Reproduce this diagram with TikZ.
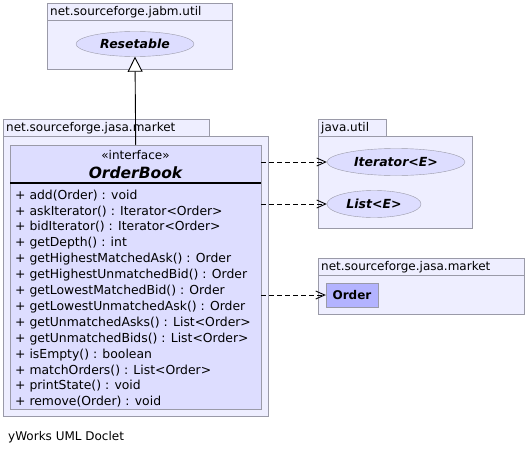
\documentclass[tikz,border=0pt]{standalone}
\usepackage{fontspec}
\setmainfont{DejaVu Sans}
\usetikzlibrary{arrows.meta,positioning,shapes.geometric}
\definecolor{pkgfill}{HTML}{EEEEFF}
\definecolor{pkgline}{HTML}{9A9AA8}
\definecolor{clsfill}{HTML}{DDDDFF}
\definecolor{reffill}{HTML}{B3B3FF}

\begin{document}
\begin{tikzpicture}[x=1pt, y=-1pt, font=\fontsize{12}{16}\selectfont,
  pkg/.style={draw=pkgline, fill=pkgfill, anchor=north west, inner sep=0pt},
  tab/.style={draw=pkgline, fill=pkgfill, anchor=north west, inner xsep=3pt,
    inner ysep=0pt, minimum height=17pt, align=left},
  cls/.style={draw=pkgline, fill=clsfill, anchor=north west, inner sep=0pt},
  iface/.style={ellipse, draw=pkgline, fill=clsfill, inner sep=0pt,
    font=\fontsize{12.5}{14}\selectfont\bfseries\itshape},
  ref/.style={draw=pkgline, fill=reffill, inner sep=0pt,
    font=\fontsize{12}{14}\selectfont\bfseries},
  dep/.style={dash pattern=on 5pt off 3pt, line width=0.9pt,
    -{Straight Barb[length=9pt, width=8pt]}},
  realize/.style={line width=0.9pt, -{Triangle[length=15pt, width=15pt, fill=white]}}]
\useasboundingbox (0,0) rectangle (527,455);

% package net.sourceforge.jabm.util
\node[tab, text width=179pt] (jabmtab) at (47,3) {net.sourceforge.jabm.util};
\node[pkg, minimum width=185pt, minimum height=49pt] (jabm) at (47,20) {};
\node[iface, minimum width=118pt, minimum height=25pt] (res) at (135,44) {Resetable};

% package net.sourceforge.jasa.market (the interface)
\node[tab, text width=200pt] (jasatab) at (3,119) {net.sourceforge.jasa.market};
\node[pkg, minimum width=265pt, minimum height=280pt] (jasa) at (3,136) {};
\node[cls, minimum width=251pt, minimum height=264pt] (ob) at (10,145) {};
\node[font=\fontsize{12}{14}\selectfont] (stereo) at (135.5,155) {«interface»};
\node[font=\fontsize{15.5}{18}\selectfont\bfseries\itshape] (obname) at (135.5,173) {OrderBook};
\draw[line width=2pt] ([yshift=-38pt]ob.north west) -- ([yshift=-38pt]ob.north east);
\node[anchor=north west, inner sep=0pt, align=left, font=\fontsize{12.4}{15.9}\selectfont] (ops)
  at ([xshift=5pt, yshift=-44.5pt]ob.north west) {%
+ add(Order) : void\\
+ askIterator() : Iterator<Order>\\
+ bidIterator() : Iterator<Order>\\
+ getDepth() : int\\
+ getHighestMatchedAsk() : Order\\
+ getHighestUnmatchedBid() : Order\\
+ getLowestMatchedBid() : Order\\
+ getLowestUnmatchedAsk() : Order\\
+ getUnmatchedAsks() : List<Order>\\
+ getUnmatchedBids() : List<Order>\\
+ isEmpty() : boolean\\
+ matchOrders() : List<Order>\\
+ printState() : void\\
+ remove(Order) : void};

% package java.util
\node[tab, text width=62pt] (juttab) at (318,119) {java.util};
\node[pkg, minimum width=154pt, minimum height=92pt] (jut) at (318,136) {};
\node[iface, minimum width=138pt, minimum height=27pt] (iter) at (396,162) {Iterator<E>};
\node[iface, minimum width=94pt, minimum height=27pt] (list) at (374,204) {List<E>};

% package net.sourceforge.jasa.market (the class)
\node[tab, text width=200pt] (mkttab) at (318,258) {net.sourceforge.jasa.market};
\node[pkg, minimum width=206pt, minimum height=39pt] (mkt) at (318,275) {};
\node[ref, minimum width=52pt, minimum height=24pt] (order) at (352,295) {Order};

\node[anchor=west, inner sep=0pt] (doclet) at (8,437) {yWorks UML Doclet};

\draw[realize] (ob.north) -- (res.south);
\draw[dep] (ob.east |- iter.west) -- (iter.west);
\draw[dep] (ob.east |- list.west) -- (list.west);
\draw[dep] (ob.east |- order.west) -- (order.west);
\end{tikzpicture}
\end{document}
